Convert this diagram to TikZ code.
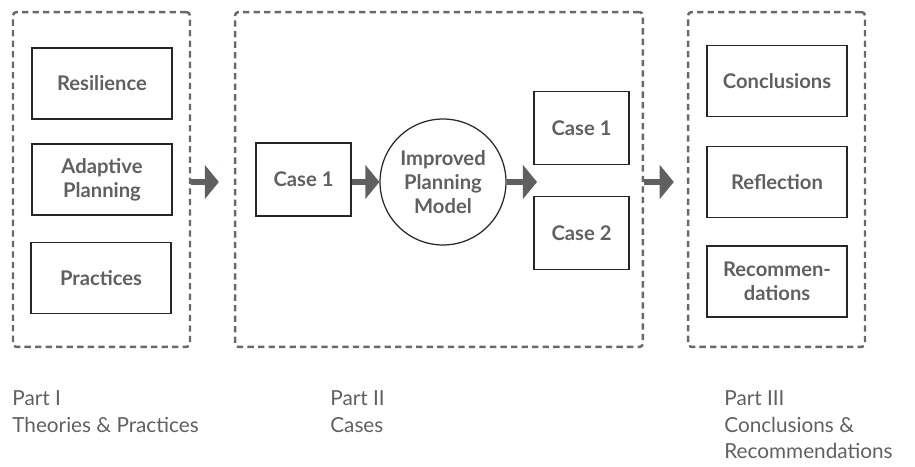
\documentclass[tikz,border=0pt]{standalone}
\usepackage{fontspec}
\setmainfont{Lato}
\usetikzlibrary{arrows.meta}
\definecolor{mygray}{RGB}{95,97,97}
\definecolor{dashgray}{RGB}{105,105,105}

\tikzset{
    group/.style={draw=dashgray, line width=1.4pt, dash pattern=on 3.6pt off 2.4pt, rounded corners=2pt, minimum width=#1, minimum height=6.7cm},
    item/.style={draw=black!85, line width=0.7pt, text=mygray, font=\bfseries\fontsize{11.5}{13.8}\selectfont, align=center, minimum width=2.8cm, minimum height=1.42cm},
    casebox/.style={item, minimum width=1.9cm, minimum height=1.46cm},
    flow/.style={draw=mygray, line width=3pt, -{Triangle[length=8pt, width=19pt]}},
    partlabel/.style={text=mygray, font=\fontsize{11.8}{15.3}\selectfont, align=left, anchor=north west, inner sep=0pt}
}

\begin{document}
\begin{tikzpicture}[x=0.02cm, y=-0.02cm]
    \useasboundingbox (0,0) rectangle (915,466);
    % Part I
    \node[group=3.54cm] (box1) at (101.5,179.5) {};
    \node[item] (res) at (102,83.5) {Resilience};
    \node[item] (adapt) at (102,179.5) {Adaptive\\Planning};
    \node[item] (prac) at (101,278) {Practices};
    % Part II
    \node[group=8.16cm] (box2) at (439,179.5) {};
    \node[casebox] (case) at (303.5,179.5) {Case 1};
    \node[item, circle, inner sep=0pt, minimum size=2.52cm] (model) at (443,182) {Improved\\Planning\\Model};
    \node[casebox] (caseA) at (581.5,128) {Case 1};
    \node[casebox] (caseB) at (581.5,233) {Case 2};
    \coordinate (split) at (537,182);
    % Part III
    \node[group=3.54cm] (box3) at (776.5,179.5) {};
    \node[item] (concl) at (777,81) {Conclusions};
    \node[item] (refl) at (777,182) {Reflection};
    \node[item] (recom) at (777,281.5) {Recommen-\\dations};
    % Arrows
    \draw[flow, shorten >=8.5pt] (box1.east |- model.center) -- (box2.west |- model.center);
    \draw[flow] (case.east |- model.center) -- (model.west);
    \draw[flow] (model.east) -- (split);
    \draw[flow, shorten >=7.4pt] (box2.east |- model.center) -- (box3.west |- model.center);
    % Labels
    \node[partlabel] (lab1) at (12,390) {Part I\\Theories \& Practices};
    \node[partlabel] (lab2) at (330,390) {Part II\\Cases};
    \node[partlabel] (lab3) at (724,390) {Part III\\Conclusions \&\\Recommendations};
\end{tikzpicture}
\end{document}
